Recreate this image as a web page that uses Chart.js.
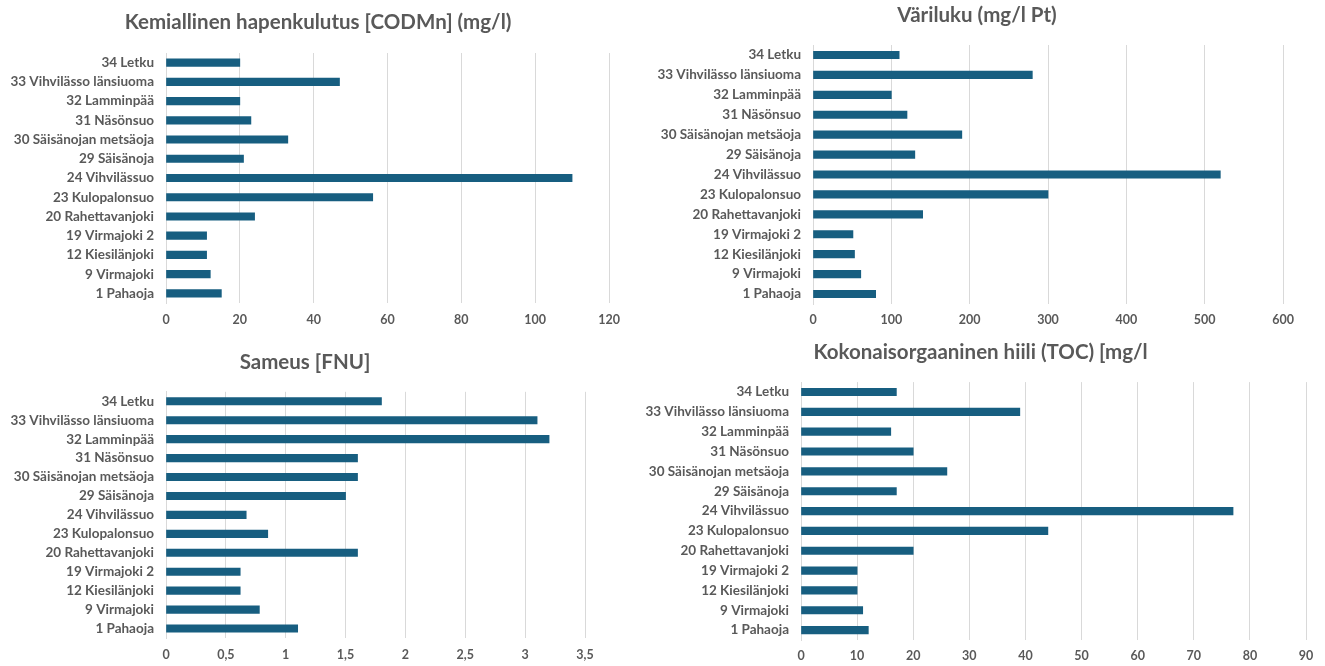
<!DOCTYPE html>
<html>
<head>
<meta charset="utf-8">
<script src="https://cdn.jsdelivr.net/npm/chart.js@4.4.0/dist/chart.umd.min.js"></script>
<style>
  html, body { margin: 0; padding: 0; background: #ffffff; }
  body { width: 1325px; height: 666px; position: relative; overflow: hidden; }
  .box { position: absolute; }
</style>
</head>
<body>
<div class="box" style="left:0px;top:0px;width:660px;height:333px;"><canvas id="c1"></canvas></div>
<div class="box" style="left:640px;top:0px;width:685px;height:333px;"><canvas id="c2"></canvas></div>
<div class="box" style="left:0px;top:333px;width:660px;height:333px;"><canvas id="c3"></canvas></div>
<div class="box" style="left:640px;top:333px;width:685px;height:333px;"><canvas id="c4"></canvas></div>
<script>
// ---- Data ----
const sites = [
  "34 Letku", "33 Vihvilässo länsiuoma", "32 Lamminpää", "31 Näsönsuo",
  "30 Säisänojan metsäoja", "29 Säisänoja", "24 Vihvilässuo", "23 Kulopalonsuo",
  "20 Rahettavanjoki", "19 Virmajoki 2", "12 Kiesilänjoki", "9 Virmajoki", "1 Pahaoja"
];
const codTitle = "Kemiallinen hapenkulutus [CODMn] (mg/l)";
const codValues = [20, 47, 20, 23, 33, 21, 110, 56, 24, 11, 11, 12, 15];
const codAxis = { max: 120, step: 20 };

const colorTitle = "Väriluku (mg/l Pt)";
const colorValues = [110, 280, 100, 120, 190, 130, 520, 300, 140, 51, 53, 61, 80];
const colorAxis = { max: 600, step: 100 };

const turbTitle = "Sameus [FNU]";
const turbValues = [1.8, 3.1, 3.2, 1.6, 1.6, 1.5, 0.67, 0.85, 1.6, 0.62, 0.62, 0.78, 1.1];
const turbAxis = { max: 3.5, step: 0.5 };

const tocTitle = "Kokonaisorgaaninen hiili (TOC) [mg/l";
const tocValues = [17, 39, 16, 20, 26, 17, 77, 44, 20, 10, 10, 11, 12];
const tocAxis = { max: 90, step: 10 };

// ---- Styling / layout ----
const BAR = "#175e80";
const TXT = "#595959";
const GRID = "#d9d9d9";
const FONT = "Lato, 'Open Sans', sans-serif";

function makeChart(id, title, values, axis, L) {
  new Chart(document.getElementById(id), {
    type: 'bar',
    data: {
      labels: sites,
      datasets: [{ data: values, xAxisID: 'x', yAxisID: 'y',
                   backgroundColor: BAR, borderWidth: 0, barThickness: 7.5 }]
    },
    options: {
      indexAxis: 'y',
      responsive: true,
      maintainAspectRatio: false,
      animation: false,
      layout: { padding: { left: 0, right: L.pr, top: 0, bottom: 0 } },
      plugins: {
        legend: { display: false },
        tooltip: { enabled: false },
        title: {
          display: true, text: title, color: TXT,
          font: { family: FONT, size: 20.5, weight: 'bold', lineHeight: 1.2 },
          padding: { top: L.tt, bottom: L.tb }
        }
      },
      scales: {
        x: {
          min: 0, max: axis.max,
          ticks: {
            stepSize: axis.step, color: TXT, padding: L.xp,
            font: { family: FONT, size: 12.5, weight: 'bold', lineHeight: 1.2 },
            callback: v => String(Math.round(v * 100) / 100).replace('.', ',')
          },
          grid: { color: GRID, drawTicks: false, lineWidth: 1 },
          border: { display: false },
          afterFit: s => { s.height = L.xh; }
        },
        y: {
          position: 'left',
          ticks: {
            color: TXT, padding: 12, autoSkip: false,
            font: { family: FONT, size: 13.5, weight: 'bold', lineHeight: 1.2 }
          },
          grid: { display: false, drawTicks: false },
          border: { display: true, color: GRID },
          afterFit: s => { s.width = L.yw; }
        },
        ySpacer: {
          type: 'linear', position: 'right', display: true,
          ticks: { display: false },
          grid: { display: false, drawTicks: false },
          border: { display: false },
          afterFit: s => { s.width = L.dw; }
        }
      }
    }
  });
}

makeChart('c1', codTitle, codValues, codAxis,       { pr: 24, dw: 27, yw: 166, tt: 9.7, tb: 18.7, xh: 30, xp: 9.5 });
makeChart('c2', colorTitle, colorValues, colorAxis, { pr: 11, dw: 31, yw: 173, tt: 2.7, tb: 17.7, xh: 29, xp: 8.5 });
makeChart('c3', turbTitle, turbValues, turbAxis,    { pr: 50, dw: 25, yw: 166, tt: 17, tb: 17.2, xh: 28, xp: 9 });
makeChart('c4', tocTitle, tocValues, tocAxis,       { pr: 4,  dw: 15, yw: 161, tt: 7, tb: 17.5, xh: 26, xp: 8.5 });
</script>
</body>
</html>
